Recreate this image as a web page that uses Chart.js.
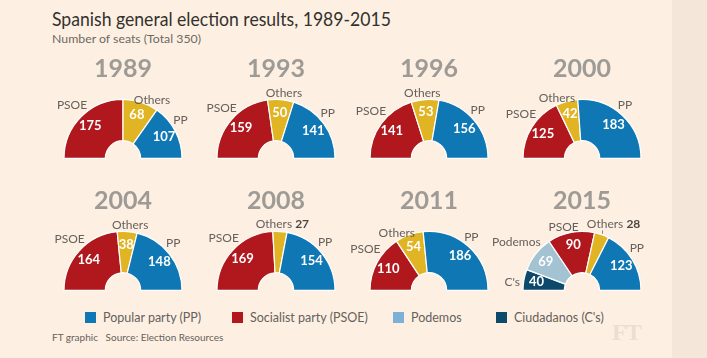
<!DOCTYPE html>
<html><head><meta charset="utf-8">
<script src="https://cdn.jsdelivr.net/npm/chart.js@4.4.1/dist/chart.umd.min.js"></script>
<style>
html,body{margin:0;padding:0}
body{width:707px;height:358px;overflow:hidden;position:relative;background:#fdf0e2;font-family:Lato,"Open Sans",sans-serif}
.strip{position:absolute;left:672px;top:0;width:35px;height:358px;background:#f4e7da}
.t{position:absolute;white-space:nowrap;line-height:1}
#title{left:52px;top:8px;font-size:20px;color:#33302e;transform:scaleX(0.88);transform-origin:0 0}
#sub{left:52px;top:33px;font-size:12.3px;color:#6e6864}
.leg{position:absolute;top:311px;height:13px;font-size:12.5px;color:#66605c;white-space:nowrap;line-height:13px}
.leg i{display:inline-block;width:11px;height:11px;vertical-align:top;margin-top:1px;margin-right:7px}
#foot{left:52px;top:332px;font-size:10px;color:#66605c}
#ft{left:612px;top:320px;font-size:24px;font-weight:bold;color:#eddecf;font-family:"Liberation Serif","DejaVu Serif",serif;letter-spacing:-1px}
canvas.c{position:absolute}
</style></head>
<body>
<div class="strip"></div>
<div class="t" id="title">Spanish general election results, 1989-2015</div>
<div class="t" id="sub">Number of seats (Total 350)</div>
<div id="legend"></div>
<div class="t" id="foot">FT graphic&nbsp;&nbsp; Source: Election Resources</div>
<div class="t" id="ft">FT</div>
<script>
// ---- data ----
const years = ['1989','1993','1996','2000','2004','2008','2011','2015'];
const partiesStd = ['PSOE','Others','PP'];
const parties2015 = ["C's",'Podemos','PSOE','Others','PP'];
const seats1989 = [175,68,107];
const seats1993 = [159,50,141];
const seats1996 = [141,53,156];
const seats2000 = [125,42,183];
const seats2004 = [164,38,148];
const seats2008 = [169,27,154];
const seats2011 = [110,54,186];
const seats2015 = [40,69,90,28,123];
const legendLabels = ['Popular party (PP)','Socialist party (PSOE)','Podemos',"Ciudadanos (C's)"];
const legendParties = ['PP','PSOE','Podemos',"C's"];

// ---- styles ----
const partyColors = {PP:'#0f78b4', PSOE:'#b0181e', Others:'#e1b423', Podemos:'#a3c3d3', "C's":'#0c496b'};
const legendColors = {PP:'#0f78b4', PSOE:'#b0181e', Podemos:'#7db0d6', "C's":'#0c496b'};
const FONT = 'Lato, "Open Sans", sans-serif';

const elections = [
  {year:years[0], labels:partiesStd, seats:seats1989},
  {year:years[1], labels:partiesStd, seats:seats1993},
  {year:years[2], labels:partiesStd, seats:seats1996},
  {year:years[3], labels:partiesStd, seats:seats2000},
  {year:years[4], labels:partiesStd, seats:seats2004},
  {year:years[5], labels:partiesStd, seats:seats2008},
  {year:years[6], labels:partiesStd, seats:seats2011},
  {year:years[7], labels:parties2015, seats:seats2015}
];

// legend
const legX = [85,232,393,496];
const legEl = document.getElementById('legend');
legendLabels.forEach((l,i)=>{
  const d = document.createElement('div');
  d.className='leg'; d.style.left = legX[i]+'px';
  d.innerHTML = '<i style="background:'+legendColors[legendParties[i]]+'"></i>'+l.replace(/'/g,'&#39;');
  legEl.appendChild(d);
});

const labelPlugin = {
  id:'seatLabels',
  afterDatasetsDraw(chart, args, opts){
    const ctx = chart.ctx;
    const meta = chart.getDatasetMeta(0);
    const labels = chart.data.labels;
    const vals = chart.data.datasets[0].data;
    const a0 = meta.data[0];
    const cx = a0.x, cy = a0.y, R = a0.outerRadius, r0 = a0.innerRadius;
    ctx.save();
    ctx.fillStyle = '#9e9a96';
    ctx.font = 'bold 25px ' + FONT;
    ctx.textAlign = 'center'; ctx.textBaseline = 'middle';
    ctx.fillText(opts.year, cx, cy - R - 30.5);
    meta.data.forEach((arc,i)=>{
      const mid = (arc.startAngle + arc.endAngle)/2;
      const th = -mid;
      const deg = th*180/Math.PI;
      const c = Math.cos(th);
      const v = vals[i];
      const small = v < 30;
      if(!small){
        const rv = r0 + (R - r0)*0.69;
        ctx.fillStyle = '#ffffff';
        ctx.font = 'bold 13px ' + FONT;
        ctx.textAlign='center'; ctx.textBaseline='middle';
        ctx.fillText(String(v), cx + rv*Math.cos(th), cy - rv*Math.sin(th));
      }
      ctx.fillStyle = '#66605c';
      ctx.font = '12px ' + FONT;
      const name = labels[i];
      if(small){
        const ex = cx + R*c;
        const ey = cy - R*Math.sin(th);
        const by = cy - R - 3;
        const xc = cx + R*c*1.6;
        ctx.font = '12px ' + FONT;
        const w1 = ctx.measureText(name + ' ').width;
        ctx.font = 'bold 12px ' + FONT;
        const w2 = ctx.measureText(String(v)).width;
        const x0 = xc - (w1+w2)/2;
        ctx.textAlign='left'; ctx.textBaseline='alphabetic';
        ctx.font = '12px ' + FONT; ctx.fillStyle = '#66605c';
        ctx.fillText(name + ' ', x0, by);
        ctx.font = 'bold 12px ' + FONT; ctx.fillStyle = '#4d4845';
        ctx.fillText(String(v), x0 + w1, by);
        if (Math.abs(ex - xc) > 6) {
          ctx.strokeStyle = '#8a8480'; ctx.lineWidth = 1;
          ctx.beginPath(); ctx.moveTo(Math.round(ex)+0.5, ey - 1); ctx.lineTo(Math.round(ex)+0.5, by + 2); ctx.stroke();
        }
      } else if (Math.abs(c) < 0.35) {
        const a = (deg + (deg-90)*0.6)*Math.PI/180;
        const r = R + 3;
        ctx.textAlign='center'; ctx.textBaseline='alphabetic';
        ctx.fillText(name, cx + r*Math.cos(a), cy - r*Math.sin(a));
      } else if (deg > 155) {
        const r = R + 4;
        ctx.textAlign='right'; ctx.textBaseline='middle';
        ctx.fillText(name, cx + r*Math.cos(th), cy - r*Math.sin(th) + 3);
      } else {
        const a = (deg + (c<0 ? -9 : 7))*Math.PI/180;
        const r = R + 2;
        ctx.textAlign = c<0 ? 'right' : 'left'; ctx.textBaseline='alphabetic';
        ctx.fillText(name, cx + r*Math.cos(a), cy - r*Math.sin(a));
      }
    });
    ctx.restore();
  }
};

const R = 59, BW = 1.2, W = 180, H = 130, PB = 4;
const colCenters = [123,276,429,582];
const rowBase = [158,290];
elections.forEach((e,k)=>{
  const col = k%4, row = Math.floor(k/4);
  const cv = document.createElement('canvas');
  cv.className='c'; cv.width=W; cv.height=H;
  cv.style.left = (colCenters[col] - W/2)+'px';
  cv.style.top = (rowBase[row] - (H - PB - BW/2))+'px';
  document.body.appendChild(cv);
  const pl = (W - 2*R - BW)/2;
  new Chart(cv, {
    type:'doughnut',
    data:{labels:e.labels, datasets:[{data:e.seats, backgroundColor:e.labels.map(l=>partyColors[l]),
      borderColor:'#ffffff', borderWidth:BW, hoverBorderWidth:BW, hoverOffset:0, offset:0}]},
    options:{
      responsive:false, animation:false, events:[], devicePixelRatio:1,
      rotation:-90, circumference:180, cutout:'30%',
      layout:{padding:{left:pl,right:pl,top:H-PB-(R+BW),bottom:PB}},
      plugins:{legend:{display:false}, tooltip:{enabled:false}, title:{display:false}, seatLabels:{year:e.year}}
    },
    plugins:[labelPlugin]
  });
});
</script>
</body></html>
